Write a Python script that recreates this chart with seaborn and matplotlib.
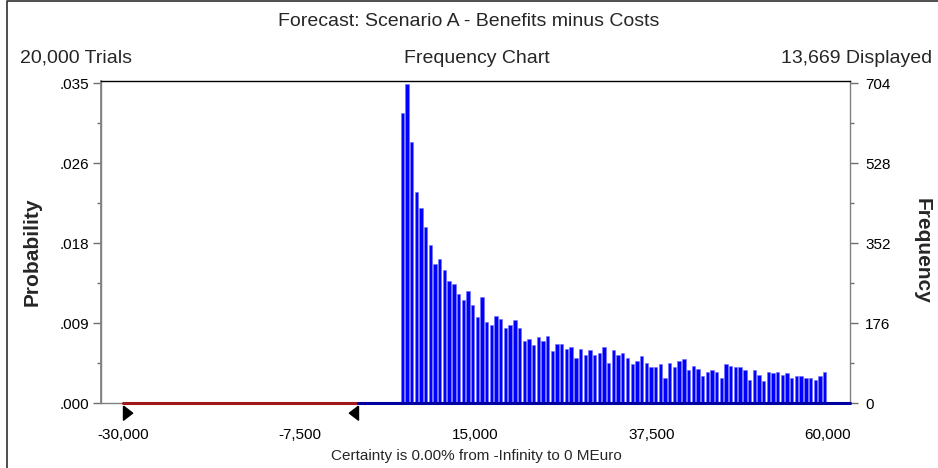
import numpy as np
import matplotlib
matplotlib.use('Agg')
import matplotlib.pyplot as plt
import seaborn as sns
from matplotlib.lines import Line2D
from matplotlib.ticker import FixedLocator, FuncFormatter

# forecast data (frequency per bin, bins of 600 MEuro)
trials = 20000
displayed = 13669
bin_width = 600
first_center = 5650
counts = [639, 702, 575, 464, 430, 389, 348, 306, 317, 293,
          269, 262, 241, 227, 248, 217, 189, 234, 179, 172,
          193, 186, 166, 172, 183, 166, 138, 141, 128, 145,
          138, 147, 114, 130, 130, 120, 123, 100, 120, 107,
          117, 107, 110, 123, 89, 117, 107, 110, 100, 86,
          93, 103, 89, 79, 79, 86, 56, 89, 79, 93,
          97, 73, 83, 76, 59, 69, 73, 69, 56, 86,
          83, 79, 79, 73, 52, 73, 62, 48, 69, 66,
          69, 62, 66, 56, 59, 59, 56, 56, 52, 59, 69]
centers = first_center + bin_width * np.arange(len(counts))

x_ticks = [-30000, -7500, 15000, 37500, 60000]
x_labels = ['-30,000', '-7,500', '15,000', '37,500', '60,000']
freq_ticks = [0, 176, 352, 528, 704]
cert_low, cert_high = -30000, 0

sns.set_theme(style='white')
plt.rcParams['font.family'] = ['Liberation Sans', 'DejaVu Sans']

fig = plt.figure(figsize=(9.38, 4.68), dpi=100)
ax = fig.add_axes([0.1074, 0.1383, 0.7988, 0.6893])

sns.barplot(x=centers, y=counts, native_scale=True, width=0.72,
            color='#0000ff', saturation=1, edgecolor='#7070ff', linewidth=0.4, ax=ax)

ax.set_xlim(-32900, 62900)
ax.set_ylim(0, 710)

# certainty range line and baseline
ax.plot([cert_low, cert_high], [0, 0], color='#a01818', lw=2.2, clip_on=False, zorder=5)
ax.plot([cert_high, 62900], [0, 0], color='#0000a0', lw=2.2, clip_on=False, zorder=5)
left_tri = [(0, -0.16), (0.55, -0.58), (0, -1), (0, -0.16)]
right_tri = [(0, -0.16), (-0.55, -0.58), (0, -1), (0, -0.16)]
ax.plot([cert_low], [0], marker=left_tri, ms=24, color='black', clip_on=False, zorder=6)
ax.plot([cert_high], [0], marker=right_tri, ms=24, color='black', clip_on=False, zorder=6)

# right axis: frequency
ax.yaxis.tick_right()
ax.yaxis.set_major_locator(FixedLocator(freq_ticks))
ax.yaxis.set_minor_locator(FixedLocator([88, 264, 440, 616]))
ax.set_ylabel('')
ax.set_xticks(x_ticks)
ax.set_xticklabels(x_labels)
ax.xaxis.set_minor_locator(FixedLocator([-18750, 3750, 26250, 48750]))
ax.set_xlabel('')

# left axis: probability
sec = ax.secondary_yaxis('left', functions=(lambda f: f / trials, lambda p: p * trials))
sec.yaxis.set_major_locator(FixedLocator([t / trials for t in freq_ticks]))
sec.yaxis.set_minor_locator(FixedLocator([t / trials for t in [88, 264, 440, 616]]))
sec.yaxis.set_major_formatter(FuncFormatter(lambda p, _: f'{p:.3f}'[1:]))

for a in (ax, sec):
    a.tick_params(axis='both', which='major', direction='out', length=6, width=1,
                  color='#707070', labelsize=11, labelcolor='black', pad=2)
    a.tick_params(axis='both', which='minor', direction='out', length=3, width=1,
                  color='#707070')
ax.tick_params(axis='y', which='major', pad=5)
ax.tick_params(axis='x', which='major', length=4, pad=14)
ax.tick_params(axis='x', which='minor', length=3)

for side in ['left', 'right', 'bottom']:
    ax.spines[side].set_color('#808080')
    ax.spines[side].set_linewidth(1)
ax.spines['top'].set_color('black')
ax.spines['top'].set_linewidth(1)
sec.spines['left'].set_color('#808080')

# texts
fig.text(0.4995, 0.953, 'Forecast: Scenario A - Benefits minus Costs', ha='center', va='center', fontsize=14)
fig.text(20 / 938, 0.876, f'{trials:,} Trials', ha='left', va='center', fontsize=14)
fig.text(477 / 938, 0.876, 'Frequency Chart', ha='center', va='center', fontsize=14)
fig.text(932 / 938, 0.876, f'{displayed:,} Displayed', ha='right', va='center', fontsize=14)
fig.text(32 / 938, 1 - 252 / 468, 'Probability', rotation=90, ha='center', va='center',
         fontsize=15, fontweight='bold')
fig.text(922 / 938, 1 - 251 / 468, 'Frequency', rotation=-90, ha='center', va='center',
         fontsize=15, fontweight='bold')
fig.text(476 / 938, 1 - 456 / 468, 'Certainty is 0.00% from -Infinity to 0 MEuro',
         ha='center', va='center', fontsize=11)

# outer frame
fig.add_artist(Line2D([7 / 938, 7 / 938, 1], [0, 1 - 1 / 468, 1 - 1 / 468],
                      transform=fig.transFigure, color='#303030', lw=1.2))

fig.savefig('out.png', dpi=100)
